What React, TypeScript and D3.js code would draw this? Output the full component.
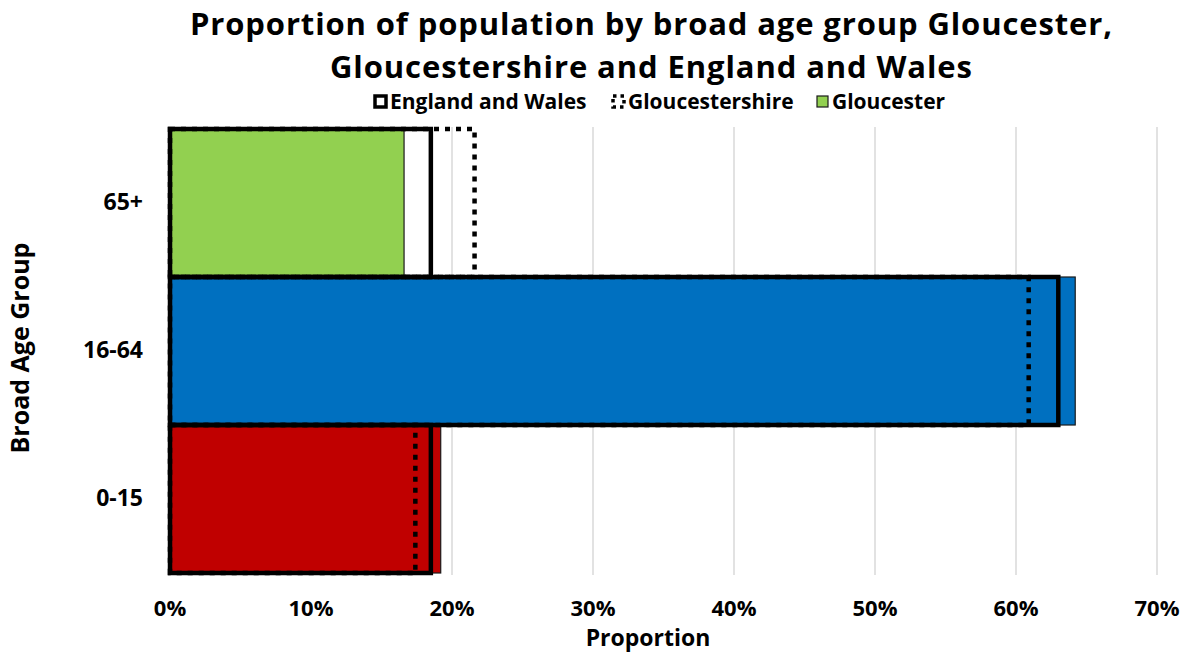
import { useEffect, useRef } from "react";
import * as d3 from "d3";

// age groups, top to bottom
const groups = ["65+", "16-64", "0-15"];
const gloucester = [0.166, 0.642, 0.192];
const englandWales = [0.185, 0.63, 0.185];
const gloucestershire = [0.216, 0.609, 0.174];
const groupColors = ["#92d050", "#0070c0", "#c00000"];
const xTicks = [0, 0.1, 0.2, 0.3, 0.4, 0.5, 0.6, 0.7];

const FONT = "'Open Sans', 'Noto Sans', sans-serif";

export default function App() {
  const ref = useRef<SVGSVGElement>(null);

  useEffect(() => {
    if (!ref.current) return;
    const width = 1191;
    const height = 657;
    const plot = { left: 170, right: 1157, top: 129, bottom: 573 };

    const svg = d3.select(ref.current);
    svg.selectAll("*").remove();
    svg.append("rect").attr("width", width).attr("height", height).attr("fill", "#fff");

    const x = d3.scaleLinear().domain([0, 0.7]).range([plot.left, plot.right]);
    const y = d3.scaleBand().domain(groups).range([plot.top, plot.bottom]).padding(0);

    // gridlines
    svg.append("g")
      .selectAll("line")
      .data(xTicks.slice(1))
      .enter()
      .append("line")
      .attr("x1", (d) => x(d))
      .attr("x2", (d) => x(d))
      .attr("y1", plot.top - 2)
      .attr("y2", plot.bottom + 2)
      .attr("stroke", "#d9d9d9")
      .attr("stroke-width", 1.5);

    // y axis line
    svg.append("line")
      .attr("x1", plot.left - 1)
      .attr("x2", plot.left - 1)
      .attr("y1", plot.top - 2)
      .attr("y2", plot.bottom + 2)
      .attr("stroke", "#bfbfbf")
      .attr("stroke-width", 1.5);

    // Gloucester bars
    svg.append("g")
      .selectAll("rect")
      .data(gloucester)
      .enter()
      .append("rect")
      .attr("x", x(0))
      .attr("y", (_, i) => y(groups[i])!)
      .attr("width", (d) => x(d) - x(0))
      .attr("height", y.bandwidth())
      .attr("fill", (_, i) => groupColors[i])
      .attr("stroke", "#1a1a1a")
      .attr("stroke-width", 1.2);

    // England and Wales outline
    svg.append("g")
      .selectAll("rect")
      .data(englandWales)
      .enter()
      .append("rect")
      .attr("x", x(0))
      .attr("y", (_, i) => y(groups[i])!)
      .attr("width", (d) => x(d) - x(0))
      .attr("height", y.bandwidth())
      .attr("fill", "none")
      .attr("stroke", "#000")
      .attr("stroke-width", 4.5);

    // Gloucestershire dotted outline
    svg.append("g")
      .selectAll("rect")
      .data(gloucestershire)
      .enter()
      .append("rect")
      .attr("x", x(0))
      .attr("y", (_, i) => y(groups[i])!)
      .attr("width", (d) => x(d) - x(0))
      .attr("height", y.bandwidth())
      .attr("fill", "none")
      .attr("stroke", "#000")
      .attr("stroke-width", 4.5)
      .attr("stroke-dasharray", "5,6");

    // x tick labels
    svg.append("g")
      .selectAll("text")
      .data(xTicks)
      .enter()
      .append("text")
      .attr("x", (d) => x(d))
      .attr("y", 616)
      .attr("text-anchor", "middle")
      .style("font-family", FONT)
      .style("font-weight", "bold")
      .style("font-size", "22px")
      .text((d) => d3.format(".0%")(d));

    svg.append("text")
      .attr("x", 648)
      .attr("y", 646)
      .attr("text-anchor", "middle")
      .style("font-family", FONT)
      .style("font-weight", "bold")
      .style("font-size", "23px")
      .text("Proportion");

    // y category labels
    svg.append("g")
      .selectAll("text")
      .data(groups)
      .enter()
      .append("text")
      .attr("x", 143)
      .attr("y", (d) => y(d)! + y.bandwidth() / 2 + 7)
      .attr("text-anchor", "end")
      .style("font-family", FONT)
      .style("font-weight", "bold")
      .style("font-size", "23px")
      .text((d) => d);

    svg.append("text")
      .attr("transform", `translate(29,348) rotate(-90)`)
      .attr("text-anchor", "middle")
      .style("font-family", FONT)
      .style("font-weight", "bold")
      .style("font-size", "25px")
      .text("Broad Age Group");

    // title
    const titleLines = [
      "Proportion of population by broad age group Gloucester,",
      "Gloucestershire and England and Wales",
    ];
    const titleWidths = [922, 642];
    svg.append("g")
      .selectAll("text")
      .data(titleLines)
      .enter()
      .append("text")
      .attr("x", 651)
      .attr("y", (_, i) => 35 + i * 43)
      .attr("text-anchor", "middle")
      .attr("textLength", (_, i) => titleWidths[i])
      .style("font-family", FONT)
      .style("font-weight", "bold")
      .style("font-size", "31px")
      .text((d) => d);

    // legend
    const legend = [
      { label: "England and Wales", x: 373, kind: "solid" },
      { label: "Gloucestershire", x: 611, kind: "dotted" },
      { label: "Gloucester", x: 815, kind: "fill" },
    ];
    const lg = svg.append("g");
    legend.forEach((item) => {
      const r = lg.append("rect")
        .attr("x", item.x + 2)
        .attr("y", 96)
        .attr("width", 11)
        .attr("height", 11);
      if (item.kind === "solid") {
        r.attr("fill", "#fff").attr("stroke", "#000").attr("stroke-width", 3.5);
      } else if (item.kind === "dotted") {
        r.attr("fill", "none").attr("stroke", "#000").attr("stroke-width", 3.5).attr("stroke-dasharray", "3.5,4");
      } else {
        r.attr("fill", "#92d050").attr("stroke", "#1a1a1a").attr("stroke-width", 1.2);
      }
      lg.append("text")
        .attr("x", item.x + 17)
        .attr("y", 109)
        .style("font-family", FONT)
        .style("font-weight", "bold")
        .style("font-size", "21px")
        .text(item.label);
    });
  }, []);

  return (
    <svg
      ref={ref}
      width={1191}
      height={657}
      style={{ position: "absolute", left: 0, top: 0, display: "block" }}
    />
  );
}
